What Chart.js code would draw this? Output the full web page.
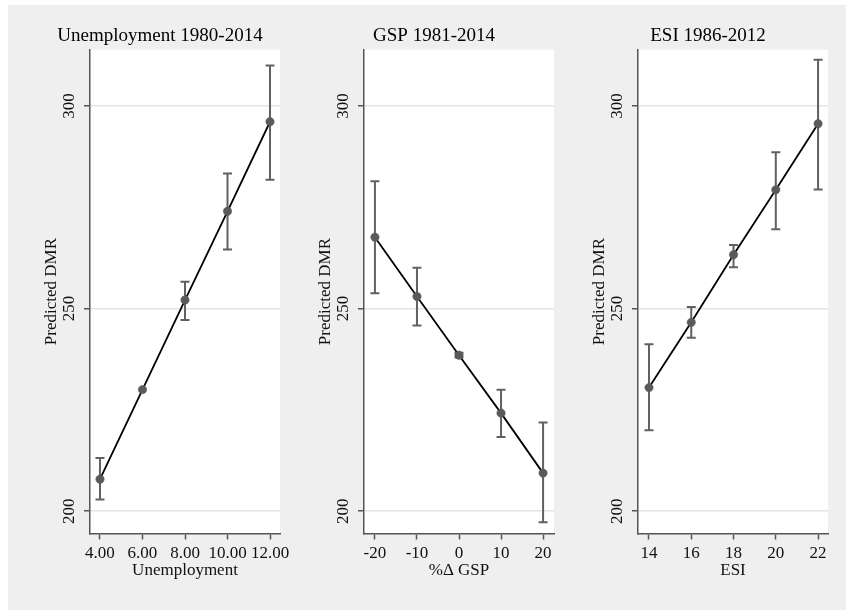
<!DOCTYPE html>
<html>
<head>
<meta charset="utf-8">
<script src="https://cdn.jsdelivr.net/npm/chart.js@4.4.1/dist/chart.umd.min.js"></script>
<style>
  html, body { margin: 0; padding: 0; background: #ffffff; overflow: hidden; }
  #wrap { position: relative; width: 846px; height: 610px; background: #ffffff; }
  #bg { position: absolute; left: 8px; top: 5px; width: 838px; height: 605px; background: #efefef; }
  canvas { position: absolute; top: 5px; }
</style>
</head>
<body>
<div id="wrap">
  <div id="bg"></div>
  <canvas id="c1" width="258" height="605" style="left:40px"></canvas>
  <canvas id="c2" width="258" height="605" style="left:314px"></canvas>
  <canvas id="c3" width="258" height="605" style="left:588px"></canvas>
</div>
<script>
// ---- Data ----
const yTickValues = [200, 250, 300];
const yTickLabels = ['200', '250', '300'];
const yAxisTitle = 'Predicted DMR';

// Panel 1: Unemployment 1980-2014
const unempTitle = 'Unemployment 1980-2014';
const unempXTitle = 'Unemployment';
const unempX = [4, 6, 8, 10, 12];
const unempPred = [207.9, 230.0, 252.1, 274.0, 296.1];
const unempLo = [202.9, 230.0, 247.2, 264.6, 281.8];
const unempHi = [213.1, 230.0, 256.6, 283.3, 310.0];
const unempTickValues = [4, 6, 8, 10, 12];
const unempTickLabels = ['4.00', '6.00', '8.00', '10.00', '12.00'];

// Panel 2: GSP 1981-2014
const gspTitle = 'GSP 1981-2014';
const gspXTitle = '%\u0394 GSP';
const gspX = [-20, -10, 0, 10, 20];
const gspPred = [267.6, 253.0, 238.5, 224.2, 209.4];
const gspLo = [253.8, 245.8, 237.9, 218.3, 197.3];
const gspHi = [281.4, 260.1, 239.1, 230.0, 221.9];
const gspTickValues = [-20, -10, 0, 10, 20];
const gspTickLabels = ['-20', '-10', '0', '10', '20'];

// Panel 3: ESI 1986-2012
const esiTitle = 'ESI 1986-2012';
const esiXTitle = 'ESI';
const esiX = [14, 16, 18, 20, 22];
const esiPred = [230.5, 246.6, 263.3, 279.3, 295.6];
const esiLo = [220.0, 242.8, 260.2, 269.6, 279.4];
const esiHi = [241.2, 250.4, 265.7, 288.6, 311.4];
const esiTickValues = [14, 16, 18, 20, 22];
const esiTickLabels = ['14', '16', '18', '20', '22'];

// ---- Rendering ----
const SERIF = '"Liberation Serif", "Times New Roman", serif';
Chart.defaults.font.family = SERIF;
Chart.defaults.color = '#111111';

function makePanel(id, title, xTitle, xs, pred, lo, hi, tickVals, tickLabels, xMin, xMax) {
  const plotBg = {
    id: 'plotBg',
    beforeDraw(chart) {
      const {ctx, chartArea: a} = chart;
      ctx.save();
      ctx.fillStyle = '#ffffff';
      ctx.fillRect(a.left, a.top, a.right - a.left, a.bottom - a.top);
      ctx.restore();
    }
  };
  const errBars = {
    id: 'errBars',
    beforeDatasetsDraw(chart) {
      const {ctx} = chart;
      const xs_ = chart.scales.x, ys_ = chart.scales.y;
      ctx.save();
      ctx.strokeStyle = '#616161';
      ctx.lineWidth = 2;
      xs.forEach((xv, i) => {
        if (lo[i] === hi[i]) return;
        const px = xs_.getPixelForValue(xv);
        const pl = ys_.getPixelForValue(lo[i]);
        const ph = ys_.getPixelForValue(hi[i]);
        ctx.beginPath();
        ctx.moveTo(px, pl); ctx.lineTo(px, ph);
        ctx.moveTo(px - 4.5, pl); ctx.lineTo(px + 4.5, pl);
        ctx.moveTo(px - 4.5, ph); ctx.lineTo(px + 4.5, ph);
        ctx.stroke();
      });
      ctx.restore();
    }
  };
  const yLabels = {
    id: 'yLabels',
    afterDraw(chart) {
      const {ctx, chartArea: a} = chart;
      const ys_ = chart.scales.y;
      ctx.save();
      ctx.font = '17px ' + SERIF;
      ctx.fillStyle = '#111111';
      ctx.textAlign = 'center';
      ctx.textBaseline = 'middle';
      yTickValues.forEach((v, i) => {
        const py = ys_.getPixelForValue(v);
        ctx.save();
        ctx.translate(a.left - 20.5, py);
        ctx.rotate(-Math.PI / 2);
        ctx.fillText(yTickLabels[i], 0, 0);
        ctx.restore();
      });
      ctx.restore();
    }
  };
  return new Chart(document.getElementById(id), {
    type: 'scatter',
    data: {
      datasets: [{
        data: xs.map((x, i) => ({x: x, y: pred[i]})),
        showLine: true,
        borderColor: '#000000',
        borderWidth: 1.8,
        pointRadius: 4.2,
        pointHoverRadius: 4.2,
        pointBackgroundColor: '#5a5a5a',
        pointBorderColor: '#5a5a5a',
        pointBorderWidth: 0.5,
        tension: 0
      }]
    },
    options: {
      responsive: false,
      animation: false,
      devicePixelRatio: 1,
      layout: { padding: { left: 0, right: 18, top: 0, bottom: 0 } },
      plugins: {
        legend: { display: false },
        tooltip: { enabled: false },
        title: {
          display: true,
          text: title,
          color: '#000000',
          font: { size: 19, weight: 'normal', family: SERIF, lineHeight: 1.2 },
          padding: { top: 20, bottom: 1.8 }
        }
      },
      scales: {
        x: {
          type: 'linear',
          min: xMin, max: xMax,
          afterBuildTicks: (s) => { s.ticks = tickVals.map(v => ({value: v})); },
          afterFit: (s) => { s.height = 76.5; },
          ticks: {
            autoSkip: false,
            maxRotation: 0, minRotation: 0,
            padding: 3.6,
            color: '#111111',
            font: { size: 17, family: SERIF },
            callback: (v, i) => tickLabels[i]
          },
          grid: { drawOnChartArea: false, drawTicks: true, tickLength: 6, tickColor: '#555555', tickWidth: 1.5 },
          border: { display: true, color: '#555555', width: 1.5 },
          title: {
            display: true, text: xTitle, color: '#111111',
            font: { size: 17, family: SERIF, lineHeight: 1.2 },
            padding: { top: 0, bottom: 29 }
          }
        },
        y: {
          type: 'linear',
          min: 194.5, max: 313.9,
          afterBuildTicks: (s) => { s.ticks = yTickValues.map(v => ({value: v})); },
          afterFit: (s) => { s.width = 50; },
          ticks: { display: false },
          grid: { drawOnChartArea: true, color: '#e4e4e4', lineWidth: 1.5, drawTicks: true, tickLength: 6, tickColor: '#555555', tickWidth: 1.5 },
          border: { display: true, color: '#555555', width: 1.5 },
          title: {
            display: true, text: yAxisTitle, color: '#111111',
            font: { size: 17, family: SERIF, lineHeight: 1.2 },
            padding: { top: 1.5, bottom: 0 }
          }
        }
      }
    },
    plugins: [plotBg, errBars, yLabels]
  });
}

makePanel('c1', unempTitle, unempXTitle, unempX, unempPred, unempLo, unempHi, unempTickValues, unempTickLabels, 3.53, 12.47);
makePanel('c2', gspTitle, gspXTitle, gspX, gspPred, gspLo, gspHi, gspTickValues, gspTickLabels, -22.6, 22.6);
makePanel('c3', esiTitle, esiXTitle, esiX, esiPred, esiLo, esiHi, esiTickValues, esiTickLabels, 13.48, 22.47);
</script>
</body>
</html>
